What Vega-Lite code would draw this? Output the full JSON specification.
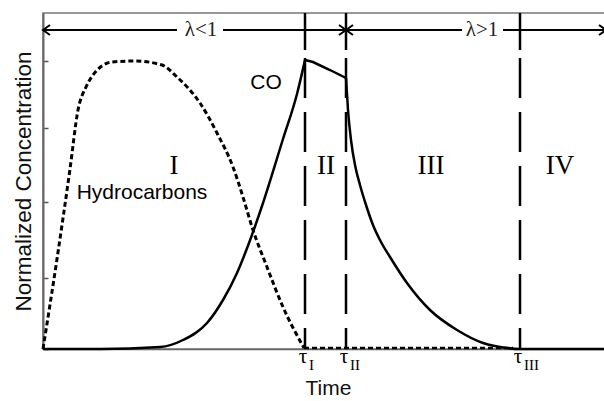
{
  "$schema": "https://vega.github.io/schema/vega-lite/v6.json",
  "width": 570,
  "height": 336,
  "autosize": {"type": "none"},
  "padding": {"left": 43, "top": 13, "right": 0, "bottom": 52},
  "background": "white",
  "config": {
    "view": {"stroke": "#777", "strokeWidth": 1.5},
    "axis": {"grid": false}
  },
  "datasets": {
    "curves": [
      {"seg": "HCa", "x": 0, "y": 0},
      {"seg": "HCa", "x": 14, "y": 90},
      {"seg": "HCa", "x": 27, "y": 180},
      {"seg": "HCa", "x": 35, "y": 239},
      {"seg": "HCa", "x": 43, "y": 262},
      {"seg": "HCa", "x": 50, "y": 274},
      {"seg": "HCa", "x": 69, "y": 287},
      {"seg": "HCa", "x": 92, "y": 288},
      {"seg": "HCa", "x": 119, "y": 284},
      {"seg": "HCa", "x": 134, "y": 272},
      {"seg": "HCa", "x": 157, "y": 246},
      {"seg": "HCa", "x": 174, "y": 216},
      {"seg": "HCa", "x": 190, "y": 182},
      {"seg": "HCa", "x": 200, "y": 152},
      {"seg": "HCa", "x": 209, "y": 122},
      {"seg": "HCa", "x": 224, "y": 82},
      {"seg": "HCa", "x": 240, "y": 42},
      {"seg": "HCa", "x": 261, "y": 1},
      {"seg": "HCb", "x": 261, "y": 1},
      {"seg": "HCb", "x": 470, "y": 1},
      {"seg": "COa", "x": 0, "y": 0},
      {"seg": "COa", "x": 57, "y": 0},
      {"seg": "COa", "x": 117, "y": 2},
      {"seg": "COa", "x": 140, "y": 9},
      {"seg": "COa", "x": 164, "y": 26},
      {"seg": "COa", "x": 180, "y": 49},
      {"seg": "COa", "x": 194, "y": 76},
      {"seg": "COa", "x": 206, "y": 106},
      {"seg": "COa", "x": 219, "y": 143},
      {"seg": "COa", "x": 240, "y": 210},
      {"seg": "COa", "x": 254, "y": 255},
      {"seg": "COa", "x": 262, "y": 289},
      {"seg": "COb", "x": 262, "y": 289},
      {"seg": "COb", "x": 270, "y": 287},
      {"seg": "COb", "x": 287, "y": 279},
      {"seg": "COb", "x": 303, "y": 271},
      {"seg": "COc", "x": 303, "y": 271},
      {"seg": "COc", "x": 305, "y": 239},
      {"seg": "COc", "x": 308, "y": 209},
      {"seg": "COc", "x": 312, "y": 184},
      {"seg": "COc", "x": 317, "y": 164},
      {"seg": "COc", "x": 323, "y": 144},
      {"seg": "COc", "x": 330, "y": 124},
      {"seg": "COc", "x": 338, "y": 107},
      {"seg": "COc", "x": 347, "y": 92},
      {"seg": "COc", "x": 364, "y": 66},
      {"seg": "COc", "x": 387, "y": 39},
      {"seg": "COc", "x": 414, "y": 19},
      {"seg": "COc", "x": 440, "y": 6},
      {"seg": "COc", "x": 464, "y": 1},
      {"seg": "COc", "x": 477, "y": 0},
      {"seg": "COc", "x": 570, "y": 0}
    ],
    "vlines": [
      {"x": 262, "y": 336, "y2": 299, "kind": "solid"},
      {"x": 303, "y": 336, "y2": 299, "kind": "solid"},
      {"x": 477, "y": 336, "y2": 299, "kind": "solid"},
      {"x": 262, "y": 291, "y2": 0, "kind": "dashed"},
      {"x": 303, "y": 291, "y2": 0, "kind": "dashed"},
      {"x": 477, "y": 291, "y2": 0, "kind": "dashed"}
    ],
    "segs": [
      {"x": 0, "x2": 134, "y": 319},
      {"x": 180, "x2": 303, "y": 319},
      {"x": 303, "x2": 419, "y": 319},
      {"x": 460, "x2": 563, "y": 319}
    ],
    "heads": [
      {"x": 0, "y": 319, "dir": "left"},
      {"x": 303, "y": 319, "dir": "right"},
      {"x": 303, "y": 319, "dir": "left"},
      {"x": 563, "y": 319, "dir": "right"}
    ],
    "sans": [
      {"x": 223, "y": 266, "label": "CO"},
      {"x": 99, "y": 156, "label": "Hydrocarbons"}
    ],
    "roman": [
      {"x": 131, "y": 183, "label": "I"},
      {"x": 283, "y": 183, "label": "II"},
      {"x": 388, "y": 183, "label": "III"},
      {"x": 517, "y": 183, "label": "IV"}
    ],
    "lambda": [
      {"x": 158, "y": 319, "label": "λ<1"},
      {"x": 439, "y": 319, "label": "λ>1"}
    ],
    "taus": [
      {"x": 262, "y": 0, "label": "τ", "sub": "I"},
      {"x": 303, "y": 0, "label": "τ", "sub": "II"},
      {"x": 477, "y": 0, "label": "τ", "sub": "III"}
    ]
  },
  "encoding": {
    "x": {
      "field": "x", "type": "quantitative",
      "scale": {"domain": [0, 570], "nice": false, "zero": false},
      "axis": {
        "title": "Time", "ticks": false, "labels": false,
        "domainColor": "#666", "domainWidth": 1.5,
        "titleFont": "Liberation Sans", "titleFontWeight": "normal",
        "titleFontSize": 21, "titleColor": "#111", "titlePadding": 28
      }
    },
    "y": {
      "field": "y", "type": "quantitative",
      "scale": {"domain": [0, 336], "nice": false, "zero": false},
      "axis": {
        "title": "Normalized Concentration", "labels": false,
        "values": [0, 71, 147, 221, 288],
        "tickSize": -5, "tickColor": "#555", "tickWidth": 1.5,
        "domainColor": "#666", "domainWidth": 2,
        "titleFont": "Liberation Sans", "titleFontWeight": "normal",
        "titleFontSize": 22.5, "titleColor": "#111", "titlePadding": 7
      }
    }
  },
  "layer": [
    {
      "data": {"name": "curves"},
      "transform": [{"filter": "datum.seg === 'COa' || datum.seg === 'COc'"}],
      "mark": {"type": "line", "color": "black", "strokeWidth": 2.5, "interpolate": "monotone"},
      "encoding": {"detail": {"field": "seg"}}
    },
    {
      "data": {"name": "curves"},
      "transform": [{"filter": "datum.seg === 'COb'"}],
      "mark": {"type": "line", "color": "black", "strokeWidth": 2.5, "interpolate": "linear"},
      "encoding": {}
    },
    {
      "data": {"name": "curves"},
      "transform": [{"filter": "datum.seg === 'HCa'"}],
      "mark": {"type": "line", "color": "black", "strokeWidth": 3, "interpolate": "monotone", "strokeDash": [5, 3]},
      "encoding": {}
    },
    {
      "data": {"name": "curves"},
      "transform": [{"filter": "datum.seg === 'HCb'"}],
      "mark": {"type": "line", "color": "black", "strokeWidth": 2.5, "interpolate": "linear", "strokeDash": [5, 3]},
      "encoding": {}
    },
    {
      "data": {"name": "vlines"},
      "transform": [{"filter": "datum.kind === 'solid'"}],
      "mark": {"type": "rule", "color": "black", "strokeWidth": 2.5},
      "encoding": {"y2": {"field": "y2"}}
    },
    {
      "data": {"name": "vlines"},
      "transform": [{"filter": "datum.kind === 'dashed'"}],
      "mark": {"type": "rule", "color": "black", "strokeWidth": 2.5, "strokeDash": [40, 14]},
      "encoding": {"y2": {"field": "y2"}}
    },
    {
      "data": {"name": "segs"},
      "mark": {"type": "rule", "color": "black", "strokeWidth": 2},
      "encoding": {"x2": {"field": "x2"}}
    },
    {
      "data": {"name": "heads"},
      "mark": {"type": "point", "filled": false, "color": "black", "strokeWidth": 2, "size": 100, "opacity": 1},
      "encoding": {
        "shape": {
          "field": "dir", "type": "nominal",
          "scale": {"domain": ["left", "right"], "range": ["M1.4,-1L0,0L1.4,1", "M-1.4,-1L0,0L-1.4,1"]},
          "legend": null
        }
      }
    },
    {
      "data": {"name": "sans"},
      "mark": {"type": "text", "font": "Liberation Sans", "fontSize": 21, "color": "black", "align": "center", "baseline": "middle"},
      "encoding": {"text": {"field": "label"}}
    },
    {
      "data": {"name": "roman"},
      "mark": {"type": "text", "font": "Liberation Serif", "fontSize": 27, "color": "black", "align": "center", "baseline": "middle"},
      "encoding": {"text": {"field": "label"}}
    },
    {
      "data": {"name": "lambda"},
      "mark": {"type": "text", "font": "Liberation Serif", "fontSize": 21, "color": "#222", "align": "center", "baseline": "middle"},
      "encoding": {"text": {"field": "label"}}
    },
    {
      "data": {"name": "taus"},
      "mark": {"type": "text", "font": "Liberation Serif", "fontSize": 21, "color": "black", "align": "center", "baseline": "alphabetic", "dx": -2, "dy": 14},
      "encoding": {"text": {"field": "label"}}
    },
    {
      "data": {"name": "taus"},
      "mark": {"type": "text", "font": "Liberation Serif", "fontSize": 15, "color": "black", "align": "left", "baseline": "alphabetic", "dx": 4, "dy": 21},
      "encoding": {"text": {"field": "sub"}}
    }
  ]
}
